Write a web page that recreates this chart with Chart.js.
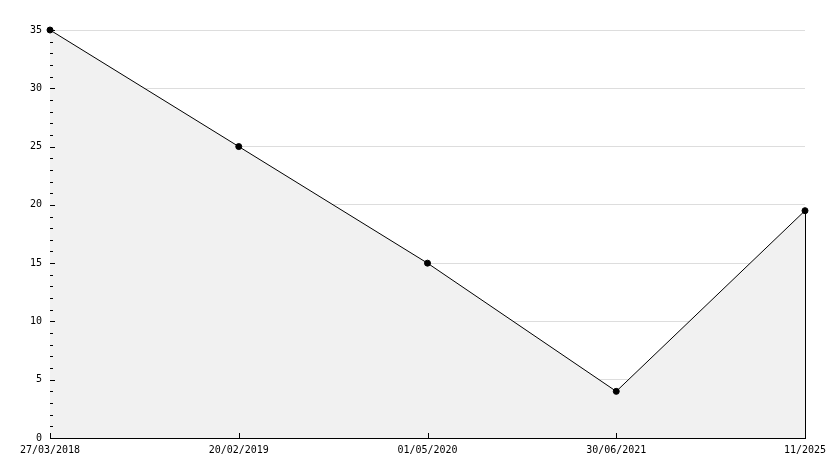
<!DOCTYPE html>
<html>
<head>
<meta charset="utf-8">
<script src="https://cdn.jsdelivr.net/npm/chart.js@4"></script>
<style>
  html, body { margin: 0; padding: 0; background: #fff; }
  #wrap { width: 834px; height: 468px; }
</style>
</head>
<body>
<div id="wrap"><canvas id="myChart" width="834" height="468"></canvas></div>
<script>
const dates = ['27/03/2018', '20/02/2019', '01/05/2020', '30/06/2021', '11/2025'];
const values = [35, 25, 15, 4, 19.5];
const yMin = 0;
const yMax = 35;
const yStep = 5;

// little tick marks drawn inside the plot, plus the closing edge of the fill
const axisMarks = {
    id: 'axisMarks',
    afterDatasetsDraw(chart) {
        const ctx = chart.ctx;
        const x = chart.scales.x;
        const y = chart.scales.y;
        const left = chart.chartArea.left;
        const bottom = chart.chartArea.bottom;
        ctx.save();
        ctx.strokeStyle = '#000';
        ctx.lineWidth = 1;
        ctx.beginPath();
        for (let v = yMin; v <= yMax; v++) {
            const py = Math.round(y.getPixelForValue(v)) + 0.5;
            const len = v % yStep === 0 ? 5 : 3;
            ctx.moveTo(left, py);
            ctx.lineTo(left + len, py);
        }
        for (let i = 0; i < dates.length; i++) {
            const px = Math.round(x.getPixelForValue(i)) + 0.5;
            ctx.moveTo(px, bottom);
            ctx.lineTo(px, bottom - 5);
        }
        const last = dates.length - 1;
        const lx = Math.round(x.getPixelForValue(last)) + 0.5;
        ctx.moveTo(lx, y.getPixelForValue(values[last]));
        ctx.lineTo(lx, bottom);
        ctx.stroke();
        ctx.restore();
    }
};

Chart.defaults.font.family = '"DejaVu Sans Mono", monospace';
Chart.defaults.font.size = 10;
Chart.defaults.color = '#000';

var myChart = new Chart(document.getElementById('myChart').getContext('2d'), {
    type: 'line',
    data: {
        labels: dates,
        datasets: [{
            data: values,
            borderColor: '#000',
            borderWidth: 1,
            backgroundColor: '#f1f1f1',
            fill: 'origin',
            clip: false,
            tension: 0,
            pointRadius: 3,
            pointStyle: 'circle',
            pointBackgroundColor: '#000',
            pointBorderColor: '#000',
            pointBorderWidth: 1
        }]
    },
    options: {
        responsive: false,
        animation: false,
        layout: {
            padding: { top: 30, right: 29, left: 0, bottom: 0 }
        },
        plugins: {
            legend: { display: false },
            tooltip: { enabled: false }
        },
        scales: {
            x: {
                offset: false,
                grid: { display: false, drawTicks: false },
                border: { display: true, color: '#000', width: 1 },
                ticks: { autoSkip: false, maxRotation: 0, padding: 6 },
                afterFit(scale) { scale.height = 30; }
            },
            y: {
                min: yMin,
                max: yMax,
                ticks: { stepSize: yStep, padding: 8 },
                grid: { color: '#dddddd', drawTicks: false },
                border: { display: true, color: '#000', width: 1 },
                afterFit(scale) { scale.width = 50; }
            }
        }
    },
    plugins: [axisMarks]
});
</script>
</body>
</html>
